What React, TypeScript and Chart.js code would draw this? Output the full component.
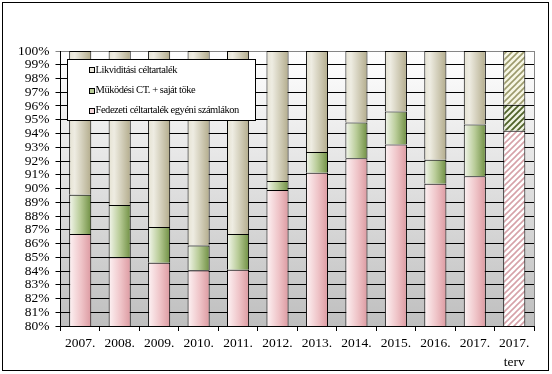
import React, { useEffect, useRef } from 'react';
import { Chart, registerables } from 'chart.js';

Chart.register(...registerables);

const categories: (string | string[])[] = ['2007.', '2008.', '2009.', '2010.', '2011.', '2012.', '2013.', '2014.', '2015.', '2016.', '2017.', ['2017.', 'terv']];
const fedezeti = [86.7, 85.0, 84.6, 84.05, 84.1, 89.9, 91.15, 92.2, 93.2, 90.35, 90.9, 94.2];
const mukodesi = [2.85, 3.8, 2.6, 1.8, 2.6, 0.65, 1.5, 2.6, 2.4, 1.75, 3.75, 1.9];
const likviditasi = [10.45, 11.2, 12.8, 14.15, 13.3, 9.45, 7.35, 5.2, 4.4, 7.9, 5.35, 3.9];
const seriesLabels = ['Fedezeti céltartalék egyéni számlákon', 'Müködési CT. + saját töke', 'Likviditási céltartalék'];
const yTicks = [80, 81, 82, 83, 84, 85, 86, 87, 88, 89, 90, 91, 92, 93, 94, 95, 96, 97, 98, 99, 100];

const BAR_PCT = 0.56;
const FONT = '"Liberation Serif", "Times New Roman", serif';

type Stop = [number, string];
const pinkStops: Stop[] = [[0, '#fdf3f4'], [0.55, '#efc4c8'], [1, '#dc9aa1']];
const greenStops: Stop[] = [[0, '#f4f7ee'], [0.5, '#b9cc98'], [1, '#6f8f42']];
const beigeStops: Stop[] = [[0, '#e6e3d3'], [0.25, '#eeece2'], [1, '#b3ac8c']];

function makeHatch(bg: string, fg: string, lw: number) {
  const c = document.createElement('canvas');
  const s = 6;
  c.width = s;
  c.height = s;
  const x = c.getContext('2d')!;
  x.fillStyle = bg;
  x.fillRect(0, 0, s, s);
  x.strokeStyle = fg;
  x.lineWidth = lw;
  x.beginPath();
  x.moveTo(-1, s + 1);
  x.lineTo(s + 1, -1);
  x.moveTo(-1, 1);
  x.lineTo(1, -1);
  x.moveTo(s - 1, s + 1);
  x.lineTo(s + 1, s - 1);
  x.stroke();
  return c;
}

function barFill(stops: Stop[], hatch: () => CanvasPattern | string) {
  return (ctx: any) => {
    const chart = ctx.chart;
    if (ctx.dataIndex === categories.length - 1) return hatch();
    const xs = chart.scales && chart.scales.x;
    if (!chart.chartArea || !xs) return stops[1][1];
    const cx = xs.getPixelForValue(ctx.dataIndex);
    const w = (xs.width / categories.length) * BAR_PCT;
    const g = chart.ctx.createLinearGradient(cx - w / 2, 0, cx + w / 2, 0);
    stops.forEach(([o, c]) => g.addColorStop(o, c));
    return g;
  };
}

export default function App() {
  const ref = useRef<HTMLCanvasElement | null>(null);

  useEffect(() => {
    const canvas = ref.current!;
    const c2d = canvas.getContext('2d')!;
    const pinkHatch = c2d.createPattern(makeHatch('#ffffff', '#d6a2a9', 1.6), 'repeat')!;
    const greenHatch = c2d.createPattern(makeHatch('#eef2e0', '#4f6128', 1.8), 'repeat')!;
    const beigeHatch = c2d.createPattern(makeHatch('#f6f6e4', '#9c9a6c', 1.6), 'repeat')!;

    const bgPlugin = {
      id: 'bgPlugin',
      beforeDraw(chart: any) {
        const { ctx, chartArea: a } = chart;
        ctx.save();
        ctx.fillStyle = '#ffffff';
        ctx.fillRect(0, 0, chart.width, chart.height);
        const g = ctx.createLinearGradient(0, a.top, 0, a.bottom);
        g.addColorStop(0, '#ffffff');
        g.addColorStop(1, '#bfbfbf');
        ctx.fillStyle = g;
        ctx.fillRect(a.left, a.top, a.right - a.left, a.bottom - a.top);
        ctx.strokeStyle = '#000000';
        ctx.lineWidth = 1;
        ctx.strokeRect(2.5, 2.5, 546, 368);
        ctx.restore();
      },
      afterDraw(chart: any) {
        const { ctx, chartArea: a } = chart;
        ctx.save();
        ctx.strokeStyle = '#868686';
        ctx.lineWidth = 1;
        ctx.beginPath();
        ctx.moveTo(Math.round(a.right) + 0.5, a.top);
        ctx.lineTo(Math.round(a.right) + 0.5, a.bottom);
        ctx.stroke();
        const lx = 67.5, ly = 59.5, lw = 188, lh = 61;
        ctx.fillStyle = '#ffffff';
        ctx.fillRect(lx, ly, lw, lh);
        ctx.strokeStyle = '#000000';
        ctx.strokeRect(lx, ly, lw, lh);
        const items = [
          { label: chart.data.datasets[2].label, fill: '#e9e6da', y: 70 },
          { label: chart.data.datasets[1].label, fill: '#b9cc98', y: 90.5 },
          { label: chart.data.datasets[0].label, fill: '#f3d6d9', y: 110.5 },
        ];
        ctx.font = `10.5px ${FONT}`;
        (ctx as any).letterSpacing = '-0.45px';
        ctx.textBaseline = 'middle';
        ctx.textAlign = 'left';
        items.forEach((it) => {
          ctx.fillStyle = it.fill;
          ctx.fillRect(89.5, Math.round(it.y) - 2.5, 5, 5);
          ctx.strokeStyle = '#000000';
          ctx.strokeRect(89.5, Math.round(it.y) - 2.5, 5, 5);
          ctx.fillStyle = '#000000';
          ctx.fillText(it.label, 95.5, it.y);
        });
        ctx.restore();
      },
    };

    const common = { borderColor: '#000000', borderWidth: 1, borderSkipped: 'bottom' };

    const chart = new Chart(canvas, {
      type: 'bar',
      data: {
        labels: categories,
        datasets: [
          { label: seriesLabels[0], data: fedezeti, backgroundColor: barFill(pinkStops, () => pinkHatch), ...common },
          { label: seriesLabels[1], data: mukodesi, backgroundColor: barFill(greenStops, () => greenHatch), ...common },
          { label: seriesLabels[2], data: likviditasi, backgroundColor: barFill(beigeStops, () => beigeHatch), ...common },
        ],
      },
      options: {
        responsive: false,
        animation: false,
        devicePixelRatio: 1,
        layout: { padding: { left: 0, right: 18, top: 51, bottom: 0 } },
        datasets: { bar: { categoryPercentage: 1, barPercentage: BAR_PCT } },
        plugins: { legend: { display: false }, tooltip: { enabled: false } },
        scales: {
          x: {
            stacked: true,
            grid: {
              display: true,
              drawOnChartArea: false,
              drawTicks: true,
              tickLength: 5,
              color: '#000000',
              offset: true,
            },
            border: { display: true, color: '#000000', width: 1 },
            ticks: {
              color: '#000000',
              font: { family: FONT, size: 13.5, lineHeight: 1.4 },
              padding: 3,
              maxRotation: 0,
              autoSkip: false,
            },
            afterFit(scale: any) {
              scale.height = 48;
            },
          },
          y: {
            stacked: true,
            min: 80,
            max: 100,
            afterBuildTicks(scale: any) {
              scale.ticks = yTicks.map((v) => ({ value: v }));
            },
            grid: {
              color: (c: any) => (c.tick && c.tick.value === 100 ? '#868686' : '#000000'),
              lineWidth: 1,
              drawTicks: true,
              tickLength: 5,
            },
            border: { display: true, color: '#000000', width: 1 },
            ticks: {
              color: '#000000',
              font: { family: FONT, size: 13.5 },
              padding: 6,
              autoSkip: false,
              callback: (v: any) => `${v}%`,
            },
            afterFit(scale: any) {
              scale.width = 60.5;
            },
          },
        },
      },
      plugins: [bgPlugin],
    } as any);
    return () => chart.destroy();
  }, []);

  return (
    <div style={{ position: 'fixed', left: 0, top: 0, width: 552, height: 374, background: '#fff' }}>
      <canvas ref={ref} width={552} height={374} style={{ display: 'block' }} />
    </div>
  );
}
